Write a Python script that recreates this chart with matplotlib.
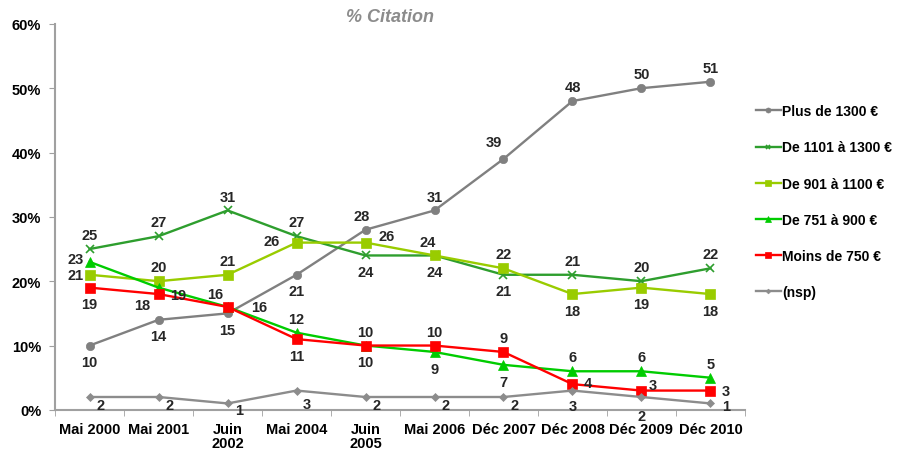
import matplotlib
matplotlib.use('Agg')
import matplotlib.pyplot as plt
import numpy as np

plt.rcParams['font.family'] = ['Liberation Sans', 'DejaVu Sans']
plt.rcParams['font.weight'] = 'bold'

# données
categories = ['Mai 2000', 'Mai 2001', 'Juin\n2002', 'Mai 2004', 'Juin\n2005',
              'Mai 2006', 'Déc 2007', 'Déc 2008', 'Déc 2009', 'Déc 2010']
plus_1300 = [10, 14, 15, 21, 28, 31, 39, 48, 50, 51]
de_1101_1300 = [25, 27, 31, 27, 24, 24, 21, 21, 20, 22]
de_901_1100 = [21, 20, 21, 26, 26, 24, 22, 18, 19, 18]
de_751_900 = [23, 19, 16, 12, 10, 9, 7, 6, 6, 5]
moins_750 = [19, 18, 16, 11, 10, 10, 9, 4, 3, 3]
nsp = [2, 2, 1, 3, 2, 2, 2, 3, 2, 1]
noms = ['Plus de 1300 €', 'De 1101 à 1300 €', 'De 901 à 1100 €',
        'De 751 à 900 €', 'Moins de 750 €', '(nsp)']

# position des etiquettes (points)
U = (0, 10); D = (0, -12)
off_plus = [D, D, D, D, (-3, 10), U, (-7, 12), U, U, U]
off_1101 = [U, U, U, U, D, D, D, U, U, U]
off_901 = [(-10, 0), U, U, (-18, 1), (15, 5), (-5, 10), U, D, D, D]
off_751 = [(-10, 2), (14, -5), (-9, 9), U, U, D, D, U, U, U]
off_moins = [D, (-12, -8), (23, 0), D, D, U, U, (11, 1), (8, 4), (11, 0)]
off_nsp = [(8, -6), (8, -6), (8, -5), (7, -10), (8, -6), (8, -6), (8, -6), (0, -11), (0, -14), (11, -2)]

series = [plus_1300, de_1101_1300, de_901_1100, de_751_900, moins_750, nsp]
offs = [off_plus, off_1101, off_901, off_751, off_moins, off_nsp]
couleurs = ['#808080', '#2e9e2e', '#99cc00', '#00cc00', '#ff0000', '#8c8c8c']
marqueurs = ['o', 'x', 's', '^', 's', 'D']
tailles = [6, 6, 7.5, 7, 7.5, 4]

fig = plt.figure(figsize=(9.04, 4.52), dpi=100)
ax = fig.add_axes([0.061, 0.091, 0.763, 0.854])
x = np.arange(len(categories))

for vals, off, c, m, s, nom in zip(series, offs, couleurs, marqueurs, tailles, noms):
    ax.plot(x, vals, color=c, marker=m, markersize=s, linewidth=1.7, label=nom,
            markeredgewidth=1.2 if m == 'x' else 0.5)
    for xi, v, o in zip(x, vals, off):
        ax.annotate(str(v), (xi, v), xytext=o, textcoords='offset points',
                    ha='center', va='center', fontsize=10.5, color='#262626')

ax.set_xlim(-0.5, len(categories) - 0.5)
ax.set_ylim(0, 60)
ax.set_yticks(range(0, 61, 10))
ax.set_yticklabels([f'{t}%' for t in range(0, 61, 10)], fontsize=10.5)
ax.set_xticks(x)
ax.set_xticklabels(categories, fontsize=10.5, linespacing=1.0)
ax.set_xticks(np.arange(-0.5, len(categories), 1), minor=True)
ax.tick_params(axis='x', which='major', length=0, pad=9)
ax.tick_params(axis='x', which='minor', length=4, color='#a0a0a0', direction='out')
ax.tick_params(axis='y', length=4, color='#a0a0a0', direction='out', pad=6)
for sp in ['top', 'right']:
    ax.spines[sp].set_visible(False)
for sp in ['left', 'bottom']:
    ax.spines[sp].set_color('#a0a0a0')
    ax.spines[sp].set_linewidth(1.5)

fig.text(390 / 904, 1 - 18 / 452, '% Citation', fontsize=13, style='italic',
         color='#8c8c8c', ha='center', va='center')

h, l = ax.get_legend_handles_labels()
leg = fig.legend(h, l, loc='upper left', bbox_to_anchor=(0.822, 0.795), frameon=False,
                 fontsize=10, labelspacing=1.6, handlelength=1.8, handletextpad=0.1,
                 markerscale=0.6)

fig.savefig('out.png', dpi=100)
